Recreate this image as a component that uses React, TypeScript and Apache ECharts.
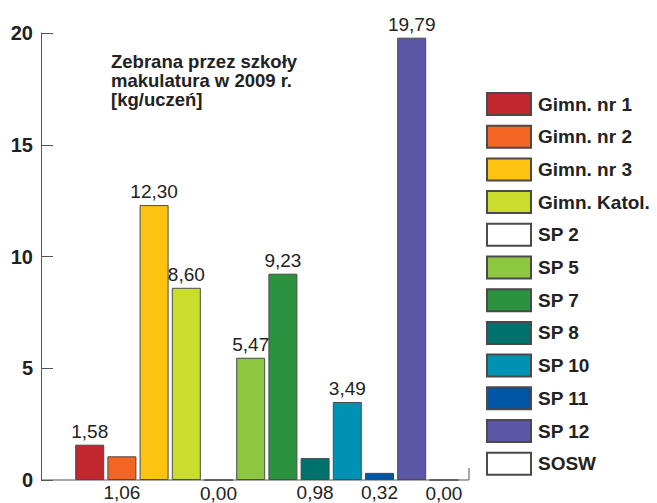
import React, { useEffect, useRef } from "react";
import * as echarts from "echarts";

const categories = [
  "Gimn. nr 1",
  "Gimn. nr 2",
  "Gimn. nr 3",
  "Gimn. Katol.",
  "SP 2",
  "SP 5",
  "SP 7",
  "SP 8",
  "SP 10",
  "SP 11",
  "SP 12",
  "SOSW",
];
const values = [1.58, 1.06, 12.3, 8.6, 0.0, 5.47, 9.23, 0.98, 3.49, 0.32, 19.79, 0.0];
const colors = [
  "#c1272d",
  "#f26522",
  "#fec210",
  "#cadd2a",
  "#ffffff",
  "#8dc63f",
  "#2b9340",
  "#00726d",
  "#0092b3",
  "#0155a5",
  "#5b56a5",
  "#ffffff",
];
const labelsBelow = ["Gimn. nr 2", "SP 2", "SP 8", "SP 11", "SOSW"];
const yTicks = [0, 5, 10, 15, 20];
const titleLines = ["Zebrana przez szkoły", "makulatura w 2009 r.", "[kg/uczeń]"];

const FONT = '"Liberation Sans", Arial, sans-serif';

export default function App() {
  const ref = useRef<HTMLDivElement>(null);
  useEffect(() => {
    if (!ref.current) return;
    const chart = echarts.init(ref.current, undefined, { renderer: "svg" });
    const series = categories.map((name, i) => {
      const below = labelsBelow.includes(name);
      return {
        name,
        type: "bar",
        stack: "all",
        barWidth: 29,
        data: categories.map((_, j) => (j === i ? values[i] : "-")),
        itemStyle: {
          color: colors[i],
          borderColor: "#4a4a4a",
          borderWidth: 1,
        },
        label: {
          show: true,
          position: below ? "bottom" : "top",
          distance: below ? 3 : 4,
          formatter: (p: any) => Number(p.value).toFixed(2).replace(".", ","),
          fontFamily: FONT,
          fontSize: 19,
          color: "#222",
        },
      };
    });
    chart.setOption({
      animation: false,
      backgroundColor: "#ffffff",
      grid: { left: 73.6, right: 197, top: 33, bottom: 23, containLabel: false },
      xAxis: {
        type: "category",
        data: categories,
        axisLine: { show: false },
        axisTick: { show: false },
        axisLabel: { show: false },
      },
      yAxis: {
        type: "value",
        min: yTicks[0],
        max: yTicks[yTicks.length - 1],
        interval: 5,
        offset: 32.6,
        axisLine: { show: true, lineStyle: { color: "#555", width: 1 } },
        axisTick: { show: true, inside: true, length: 12, lineStyle: { color: "#555" } },
        splitLine: { show: false },
        axisLabel: {
          margin: 8,
          fontFamily: FONT,
          fontWeight: "bold",
          fontSize: 20,
          color: "#222",
        },
      },
      legend: {
        orient: "vertical",
        left: 486,
        top: 92,
        padding: 0,
        itemWidth: 44,
        itemHeight: 22,
        itemGap: 8.7,
        icon: "rect",
        data: categories,
        selectedMode: false,
        textStyle: {
          fontFamily: FONT,
          fontWeight: "bold",
          fontSize: 19,
          lineHeight: 22,
          color: "#222",
          padding: [0, 0, 0, 2],
        },
      },
      graphic: [
        {
          type: "line",
          shape: { x1: 41, y1: 480, x2: 469, y2: 480 },
          style: { stroke: "#555", lineWidth: 1 },
        },
        {
          type: "line",
          shape: { x1: 469, y1: 468, x2: 469, y2: 480 },
          style: { stroke: "#555", lineWidth: 1 },
        },
        {
          type: "text",
          x: 111,
          y: 52,
          style: {
            text: titleLines.join("\n"),
            fontFamily: FONT,
            fontWeight: "bold",
            fontSize: 18.5,
            lineHeight: 19,
            fill: "#222",
            verticalAlign: "top",
          },
        },
      ],
      series,
    });
    return () => chart.dispose();
  }, []);
  return (
    <div
      ref={ref}
      style={{ position: "fixed", left: 0, top: 0, width: 657, height: 503, background: "#fff" }}
    />
  );
}
